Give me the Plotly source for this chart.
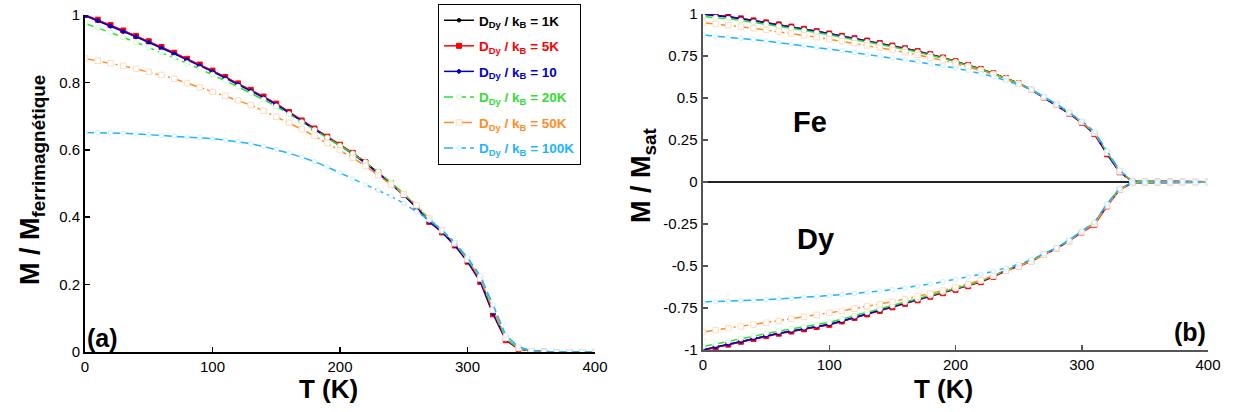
import plotly.graph_objects as go

W, H = 1235, 412

T = [0, 10, 20, 30, 40, 50, 60, 70, 80, 90, 100, 110, 120, 130, 140, 150, 160, 170, 180, 190, 200,
     210, 220, 230, 240, 250, 260, 270, 280, 290, 300, 310, 320, 330, 340, 350, 360, 370, 380, 390, 400]

labels = ["1K", "5K", "10", "20K", "50K", "100K"]

# Panel (a): M / M_ferrimagnetique
a_1K = [1.000,0.985,0.969,0.953,0.937,0.921,0.904,0.887,0.869,0.852,0.834,0.815,0.796,0.777,0.757,0.736,0.711,0.686,0.662,0.638,0.614,0.590,0.562,0.532,0.500,0.466,0.430,0.388,0.357,0.318,0.270,0.212,0.118,0.038,0.010,0.003,0.001,0.000,0.000,0.000,0.000]
a_5K = [1.000,0.986,0.970,0.954,0.938,0.922,0.905,0.888,0.870,0.853,0.835,0.816,0.797,0.778,0.758,0.737,0.712,0.687,0.663,0.639,0.615,0.591,0.563,0.533,0.501,0.466,0.429,0.386,0.355,0.316,0.268,0.208,0.112,0.035,0.009,0.003,0.001,0.000,0.000,0.000,0.000]
a_10 = [0.998,0.983,0.967,0.951,0.935,0.919,0.902,0.885,0.867,0.850,0.832,0.813,0.794,0.775,0.755,0.734,0.709,0.684,0.660,0.636,0.612,0.588,0.560,0.530,0.499,0.465,0.429,0.387,0.356,0.317,0.269,0.210,0.115,0.037,0.010,0.003,0.001,0.000,0.000,0.000,0.000]
a_20K = [0.975,0.962,0.948,0.934,0.919,0.904,0.889,0.873,0.857,0.840,0.823,0.805,0.787,0.768,0.749,0.729,0.706,0.682,0.659,0.636,0.612,0.589,0.563,0.535,0.503,0.470,0.434,0.393,0.360,0.322,0.275,0.218,0.125,0.040,0.011,0.003,0.001,0.000,0.000,0.000,0.000]
a_50K = [0.871,0.864,0.857,0.849,0.840,0.831,0.822,0.811,0.798,0.785,0.772,0.760,0.747,0.733,0.716,0.698,0.680,0.661,0.641,0.620,0.599,0.576,0.552,0.525,0.497,0.468,0.436,0.396,0.362,0.323,0.275,0.218,0.125,0.042,0.012,0.003,0.001,0.000,0.000,0.000,0.000]
a_100K = [0.651,0.651,0.650,0.649,0.647,0.645,0.643,0.641,0.638,0.636,0.633,0.629,0.624,0.618,0.610,0.601,0.590,0.578,0.565,0.549,0.532,0.514,0.496,0.480,0.462,0.441,0.416,0.392,0.362,0.325,0.280,0.226,0.140,0.050,0.015,0.004,0.001,0.000,0.000,0.000,0.000]

# Panel (b): Fe and Dy sublattices, M / M_sat
fe_1K = [1.000,0.992,0.984,0.973,0.961,0.949,0.937,0.924,0.911,0.897,0.883,0.869,0.855,0.841,0.826,0.811,0.795,0.778,0.760,0.740,0.718,0.696,0.672,0.646,0.617,0.588,0.550,0.505,0.460,0.410,0.355,0.290,0.171,0.061,0.004,0.003,0.002,0.002,0.001,0.001,0.001]
fe_5K = [1.000,0.993,0.985,0.974,0.962,0.950,0.938,0.925,0.912,0.898,0.884,0.870,0.856,0.842,0.827,0.812,0.796,0.779,0.761,0.741,0.719,0.697,0.673,0.647,0.618,0.588,0.549,0.503,0.458,0.407,0.352,0.285,0.165,0.058,0.004,0.003,0.002,0.002,0.001,0.001,0.001]
fe_10 = [0.998,0.991,0.983,0.972,0.960,0.948,0.936,0.923,0.910,0.896,0.882,0.868,0.854,0.840,0.825,0.810,0.794,0.777,0.759,0.739,0.717,0.695,0.671,0.645,0.616,0.587,0.549,0.504,0.459,0.409,0.354,0.288,0.168,0.060,0.004,0.003,0.002,0.002,0.001,0.001,0.001]
fe_20K = [0.985,0.979,0.972,0.962,0.951,0.940,0.928,0.916,0.903,0.890,0.876,0.862,0.848,0.834,0.820,0.805,0.790,0.773,0.756,0.737,0.716,0.694,0.670,0.645,0.617,0.588,0.551,0.507,0.462,0.413,0.358,0.293,0.176,0.064,0.005,0.003,0.002,0.002,0.001,0.001,0.001]
fe_50K = [0.948,0.941,0.933,0.924,0.915,0.905,0.895,0.884,0.873,0.862,0.850,0.838,0.826,0.813,0.800,0.786,0.772,0.757,0.741,0.724,0.705,0.685,0.663,0.639,0.612,0.584,0.550,0.506,0.461,0.411,0.357,0.292,0.175,0.063,0.006,0.003,0.002,0.002,0.001,0.001,0.001]
fe_100K = [0.875,0.869,0.862,0.855,0.847,0.839,0.830,0.821,0.811,0.801,0.791,0.781,0.770,0.759,0.749,0.739,0.728,0.717,0.705,0.692,0.678,0.663,0.646,0.627,0.605,0.580,0.550,0.508,0.464,0.415,0.362,0.300,0.185,0.070,0.008,0.004,0.002,0.002,0.001,0.001,0.001]

dy_1K = [-1.000,-0.983,-0.966,-0.949,-0.932,-0.915,-0.901,-0.888,-0.875,-0.861,-0.848,-0.828,-0.807,-0.786,-0.765,-0.744,-0.723,-0.702,-0.681,-0.660,-0.640,-0.618,-0.594,-0.562,-0.527,-0.500,-0.470,-0.430,-0.395,-0.349,-0.296,-0.250,-0.137,-0.044,-0.005,-0.003,-0.002,-0.002,-0.001,-0.001,-0.001]
dy_5K = [-1.002,-0.985,-0.968,-0.951,-0.934,-0.917,-0.903,-0.890,-0.877,-0.863,-0.850,-0.830,-0.809,-0.788,-0.767,-0.746,-0.725,-0.704,-0.683,-0.662,-0.642,-0.620,-0.596,-0.564,-0.529,-0.502,-0.472,-0.432,-0.397,-0.352,-0.300,-0.255,-0.145,-0.047,-0.005,-0.003,-0.002,-0.002,-0.001,-0.001,-0.001]
dy_10 = [-0.998,-0.982,-0.965,-0.948,-0.931,-0.914,-0.900,-0.887,-0.874,-0.860,-0.847,-0.827,-0.806,-0.785,-0.764,-0.743,-0.722,-0.701,-0.680,-0.659,-0.639,-0.617,-0.593,-0.561,-0.526,-0.499,-0.469,-0.429,-0.394,-0.348,-0.295,-0.248,-0.134,-0.043,-0.005,-0.003,-0.002,-0.002,-0.001,-0.001,-0.001]
dy_20K = [-0.980,-0.964,-0.948,-0.932,-0.916,-0.900,-0.887,-0.874,-0.861,-0.848,-0.835,-0.816,-0.796,-0.776,-0.756,-0.736,-0.716,-0.696,-0.676,-0.655,-0.635,-0.613,-0.590,-0.558,-0.524,-0.498,-0.468,-0.428,-0.393,-0.347,-0.293,-0.245,-0.132,-0.042,-0.005,-0.003,-0.002,-0.002,-0.001,-0.001,-0.001]
dy_50K = [-0.893,-0.882,-0.871,-0.860,-0.849,-0.838,-0.827,-0.815,-0.803,-0.791,-0.779,-0.767,-0.754,-0.741,-0.727,-0.712,-0.697,-0.681,-0.664,-0.646,-0.627,-0.607,-0.585,-0.558,-0.528,-0.502,-0.472,-0.432,-0.396,-0.350,-0.297,-0.250,-0.140,-0.045,-0.006,-0.003,-0.002,-0.002,-0.001,-0.001,-0.001]
dy_100K = [-0.714,-0.712,-0.710,-0.707,-0.704,-0.700,-0.696,-0.692,-0.687,-0.682,-0.676,-0.670,-0.664,-0.657,-0.649,-0.640,-0.630,-0.619,-0.607,-0.594,-0.580,-0.565,-0.549,-0.532,-0.513,-0.490,-0.462,-0.428,-0.392,-0.345,-0.292,-0.240,-0.130,-0.040,-0.004,-0.003,-0.002,-0.002,-0.001,-0.001,-0.001]

series_a = [a_1K, a_5K, a_10, a_20K, a_50K, a_100K]
series_fe = [fe_1K, fe_5K, fe_10, fe_20K, fe_50K, fe_100K]
series_dy = [dy_1K, dy_5K, dy_10, dy_20K, dy_50K, dy_100K]

# styles
line_colors = ["#000000", "#FF0000", "#0000CC", "#33DD33", "#FF8C26", "#1EB4FF"]
text_colors = ["#000000", "#FF0000", "#0000CC", "#33DD33", "#FF8C26", "#1EB4FF"]
dashes = ["solid", "solid", "solid", "9px,4px", "10px,3px,2px,3px", "9px,4px"]
symbols = ["circle", "square", "diamond", "circle", "square", "circle"]
m_sizes = [3.5, 5, 3.5, 5, 5.5, 4.5]
m_fill = ["#000000", "#FF0000", "#0000CC", "#FFFFFF", "#FFFFFF", "#FFFFFF"]
m_edge = ["#000000", "#FF0000", "#0000CC", "#C8FFC8", "#FFDCC0", "#C8F0FF"]

FONT = "Arial, Liberation Sans, sans-serif"

fig = go.Figure()

for i, lab in enumerate(labels):
    name = ('<span style="color:%s"><b>D<sub>Dy</sub> / k<sub>B</sub> = %s</b></span>'
            % (text_colors[i], lab))
    mk = dict(symbol=symbols[i], size=m_sizes[i], color=m_fill[i],
              line=dict(color=m_edge[i], width=1))
    ln = dict(color=line_colors[i], width=1.5, dash=dashes[i])
    fig.add_trace(go.Scatter(x=T, y=series_a[i], mode="lines+markers", name=name,
                             legendgroup="g%d" % i,
                             line=ln, marker=mk, xaxis="x", yaxis="y", showlegend=True))
    fig.add_trace(go.Scatter(x=T, y=series_fe[i], mode="lines+markers", name=name,
                             legendgroup="g%d" % i,
                             line=ln, marker=mk, xaxis="x2", yaxis="y2", showlegend=False))
    fig.add_trace(go.Scatter(x=T, y=series_dy[i], mode="lines+markers", name=name,
                             legendgroup="g%d" % i,
                             line=ln, marker=mk, xaxis="x2", yaxis="y2", showlegend=False))

def px_x(p):
    return p / W

def px_y(p):
    return 1 - p / H

tickfont = dict(family=FONT, size=15, color="#000000")

fig.update_layout(
    width=W, height=H,
    margin=dict(l=0, r=0, t=0, b=0, autoexpand=False),
    paper_bgcolor="white", plot_bgcolor="white",
    font=dict(family=FONT, color="#000000"),
    hovermode=False,
    xaxis=dict(domain=[px_x(85), px_x(595)], range=[0, 400], tickvals=[0, 100, 200, 300, 400],
               ticks="inside", ticklen=5, tickcolor="#000000", tickwidth=1.5,
               showline=True, linecolor="#000000", linewidth=2, showgrid=False, zeroline=False,
               tickfont=tickfont, anchor="y", automargin=False, ticklabeloverflow="allow"),
    yaxis=dict(domain=[px_y(352), px_y(15)], range=[0, 1.0],
               tickvals=[0, 0.2, 0.4, 0.6, 0.8, 1],
               ticktext=["0", "0.2", "0.4", "0.6", "0.8", "1"],
               ticks="inside", ticklen=5, tickcolor="#000000", tickwidth=1.5,
               showline=True, linecolor="#000000", linewidth=2, showgrid=False, zeroline=False,
               tickfont=tickfont, anchor="x", automargin=False, ticklabeloverflow="allow"),
    xaxis2=dict(domain=[px_x(703), px_x(1208)], range=[0, 400], tickvals=[0, 100, 200, 300, 400],
                ticks="inside", ticklen=5, tickcolor="#555555", tickwidth=1.5,
                showline=True, linecolor="#555555", linewidth=2, showgrid=False, zeroline=False,
                tickfont=tickfont, anchor="y2", automargin=False, ticklabeloverflow="allow"),
    yaxis2=dict(domain=[px_y(350), px_y(14)], range=[-1, 1],
                tickvals=[-1, -0.75, -0.5, -0.25, 0, 0.25, 0.5, 0.75, 1],
                ticktext=["-1", "-0.75", "-0.5", "-0.25", "0", "0.25", "0.5", "0.75", "1"],
                ticks="inside", ticklen=5, tickcolor="#555555", tickwidth=1.5,
                showline=True, linecolor="#555555", linewidth=2.5, showgrid=False,
                zeroline=True, zerolinecolor="#222222", zerolinewidth=2,
                tickfont=tickfont, anchor="x2", automargin=False, ticklabeloverflow="allow"),
    legend=dict(x=px_x(438), y=px_y(4), xanchor="left", yanchor="top",
                bgcolor="white", bordercolor="#000000", borderwidth=1,
                font=dict(family=FONT, size=13.5), itemwidth=30, tracegroupgap=5),
    showlegend=True,
)

ann = []
def add_text(text, x, y, size, angle=0):
    ann.append(dict(text=text, x=px_x(x), y=px_y(y), xref="paper", yref="paper",
                    showarrow=False, textangle=angle, xanchor="center", yanchor="middle",
                    font=dict(family=FONT, size=size, color="#000000")))

add_text("<b>T (K)</b>", 328, 389, 26)
add_text("<b>T (K)</b>", 943, 389, 26)
add_text("<b>M / M<sub>ferrimagnétique</sub></b>", 32, 180, 27, -90)
add_text("<b>M / M<sub>sat</sub></b>", 643, 175, 27, -90)
add_text("<b>(a)</b>", 102, 338, 25)
add_text("<b>(b)</b>", 1190, 332, 25)
add_text("<b>Fe</b>", 810, 122, 29)
add_text("<b>Dy</b>", 815, 239, 29)
fig.update_layout(annotations=ann)

fig.write_html("out.html",
               config={"displayModeBar": False, "staticPlot": True},
               post_script="document.body.style.margin='0';document.body.style.overflow='hidden';")
